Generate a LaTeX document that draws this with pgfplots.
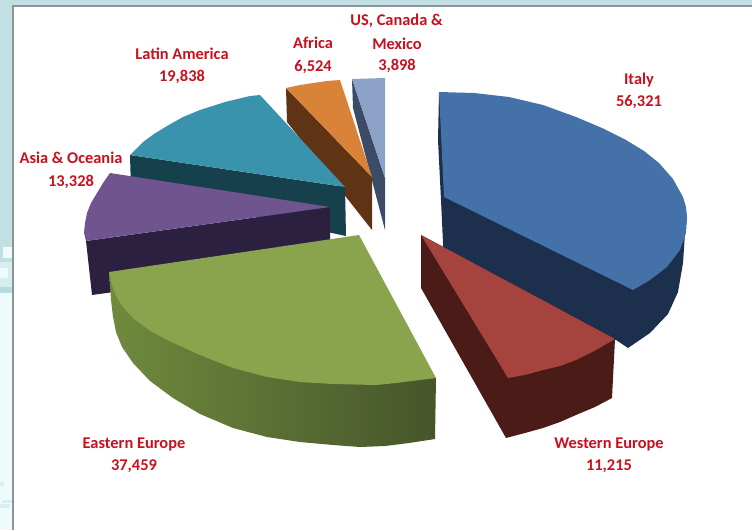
\documentclass[border=0pt]{standalone}
\usepackage{fontspec}
\setmainfont{Carlito}
\usepackage{pgfplots}
\pgfplotsset{compat=1.18}

\definecolor{bgtint}{HTML}{C0E0E4}
\definecolor{bgpale}{HTML}{EDFBFC}
\definecolor{bgmid}{HTML}{D6EEF0}
\definecolor{bgdeep}{HTML}{B7DADE}
\definecolor{frameline}{HTML}{8E9494}
\definecolor{labelred}{HTML}{C8101E}
\definecolor{italytop}{HTML}{4472A8}
\definecolor{italyside}{HTML}{1C2F4C}
\definecolor{westtop}{HTML}{A5443E}
\definecolor{westside}{HTML}{4A1B17}
\definecolor{easttop}{HTML}{8AA44E}
\definecolor{eastlight}{HTML}{708A3E}
\definecolor{eastdark}{HTML}{46552A}
\definecolor{asiatop}{HTML}{6F5490}
\definecolor{asiaside}{HTML}{2C2040}
\definecolor{latintop}{HTML}{3A93AD}
\definecolor{latinside}{HTML}{17404D}
\definecolor{africatop}{HTML}{D98338}
\definecolor{africaside}{HTML}{5F3313}
\definecolor{ustop}{HTML}{8DA2C9}
\definecolor{usside}{HTML}{3D4C66}

\pgfplotsset{
  face/.style={draw=none, fill=#1, no markers, forget plot},
}
\tikzset{
  lab/.style={font=\fontsize{16.4}{18}\selectfont\bfseries, text=labelred, inner sep=0pt, anchor=center},
}

\begin{document}
\begin{tikzpicture}
\begin{axis}[
  scale only axis, width=752pt, height=530pt,
  xmin=0, xmax=752, ymin=0, ymax=530, y dir=reverse,
  hide axis, clip=true,
]
% page backdrop and white panel
\addplot[face=bgtint] coordinates {(0,0)(752,0)(752,530)(0,530)};
\addplot[face=bgpale] coordinates {(0,292)(14,292)(14,530)(0,530)};
\addplot[face=bgmid] coordinates {(0,262)(14,262)(14,287)(0,287)};
\addplot[face=bgpale] coordinates {(3,247)(12,247)(12,258)(3,258)};
\addplot[face=bgpale] coordinates {(0,268)(8,268)(8,278)(0,278)};
\addplot[face=bgdeep] coordinates {(0,287)(13,287)(13,293)(0,293)};
\addplot[face=bgmid] coordinates {(2,500)(13,500)(13,503)(2,503)};
\addplot[face=bgmid] coordinates {(0,504)(10,504)(10,508)(0,508)};
\addplot[face=bgmid] coordinates {(0,482)(4,482)(4,486)(0,486)};
\addplot[face=white] coordinates {(13,6)(752,6)(752,530)(13,530)};
\addplot[draw=frameline, line width=1.2pt, no markers, forget plot] coordinates {(13,530)(13,6)(752,6)};

% US, Canada & Mexico
\addplot[face=usside] coordinates {(352,79)(385,178)(385,230)(353,108)};
\addplot[face=ustop] coordinates {(352,79)(385,78)(385,178)};
% Africa
\addplot[face=africaside] coordinates {(286,88)(372,177)(372,230)(287,122)};
\addplot[face=africatop] coordinates {(286,88)(300,85)(313,83)(327,81)(340,80)(372,177)};
% Latin America
\addplot[face=latinside] coordinates {(130,155)(345,187)(346,236)(131,190)};
\addplot[face=latintop] coordinates {(130,155)(143,142)(154,134)(167,126)(183,117)(200,110)(225,102)(250,96)(260,95)(345,187)};
% Asia & Oceania
\addplot[face=asiaside] coordinates {(86,241)(330,207)(330,262)(92,295)};
\addplot[face=asiatop] coordinates {(110,173)(103,183)(97,193)(91,203)(87,213)(85,223)(84,233)(86,241)(330,207)};
% Eastern Europe
\addplot[draw=none, no markers, forget plot, left color=eastlight, right color=eastdark]
  coordinates {(109,272)(110,285)(111,300)(113,317)(116,332)(122,347)(133,363)(150,381)(173,398)(200,414)(233,428)(267,437)(300,442)(333,445)(360,447)(385,446)(409,443)(435,439)(436,378)};
\addplot[face=easttop] coordinates {(359,235)(109,272)(112,285)(116,296)(123,307)(133,318)(149,330)(167,340)(200,355)(233,368)(267,377)(300,382)(333,384)(376,385)(396,383)(436,378)};
% Italy
\addplot[face=italyside] coordinates {(439,93)(438,140)(441,200)(444,265)(445,285)(616,340)(628,348)(650,333)(668,314)(678,292)(683,263)(685,233)(687,217)};
\addplot[face=italytop] coordinates {(439,92)(474,93)(509,97)(543,105)(576,117)(602,128)(626,140)(644,151)(659,163)(673,179)(683,197)(686,207)(687,217)(686,233)(680,250)(667,267)(650,280)(633,290)(444,197)};
% Western Europe
\addplot[face=westside] coordinates {(421,235)(421,288)(506,438)(525,433)(543,428)(560,422)(576,415)(595,407)(612,398)(615,339)};
\addplot[face=westtop] coordinates {(421,235)(508,378)(525,375)(543,370)(560,366)(576,360)(596,350)(615,339)};

% slice captions
\node[lab] at (axis cs:396.5,21) {US, Canada \&};
\node[lab] at (axis cs:397,44) {Mexico};
\node[lab] at (axis cs:397,66) {3,898};
\node[lab] at (axis cs:313,43) {Africa};
\node[lab] at (axis cs:313,67) {6,524};
\node[lab] at (axis cs:182,54) {Latin America};
\node[lab] at (axis cs:182,77) {19,838};
\node[lab] at (axis cs:71,158) {Asia \& Oceania};
\node[lab] at (axis cs:71,182) {13,328};
\node[lab] at (axis cs:639,80) {Italy};
\node[lab] at (axis cs:639,102) {56,321};
\node[lab] at (axis cs:134,444) {Eastern Europe};
\node[lab] at (axis cs:134,466) {37,459};
\node[lab] at (axis cs:609,444) {Western Europe};
\node[lab] at (axis cs:609,466) {11,215};
\end{axis}
\end{tikzpicture}
\end{document}
